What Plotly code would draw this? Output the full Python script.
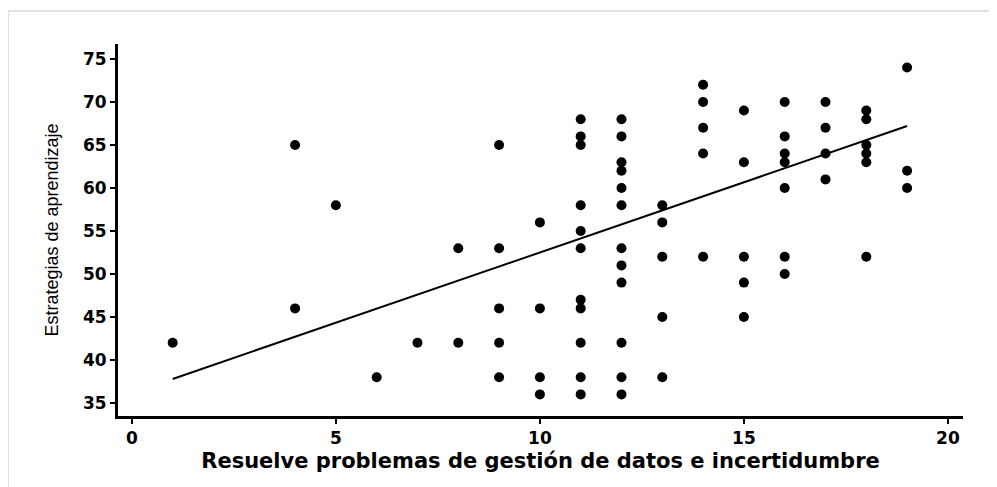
import plotly.graph_objects as go

# Scatter data (x: Resuelve problemas..., y: Estrategias de aprendizaje)
x_vals = [1,
          4, 4,
          5,
          6,
          7,
          8, 8,
          9, 9, 9, 9, 9,
          10, 10, 10, 10,
          11, 11, 11, 11, 11, 11, 11, 11, 11, 11, 11,
          12, 12, 12, 12, 12, 12, 12, 12, 12, 12, 12, 12,
          13, 13, 13, 13, 13,
          14, 14, 14, 14, 14,
          15, 15, 15, 15, 15,
          16, 16, 16, 16, 16, 16, 16,
          17, 17, 17, 17,
          18, 18, 18, 18, 18, 18,
          19, 19, 19]
y_vals = [42,
          65, 46,
          58,
          38,
          42,
          53, 42,
          65, 53, 46, 42, 38,
          56, 46, 38, 36,
          68, 66, 65, 58, 55, 53, 47, 46, 42, 38, 36,
          68, 66, 63, 62, 60, 58, 53, 51, 49, 42, 38, 36,
          58, 56, 52, 45, 38,
          72, 70, 67, 64, 52,
          69, 63, 52, 49, 45,
          70, 66, 64, 63, 60, 52, 50,
          70, 67, 64, 61,
          69, 68, 65, 64, 63, 52,
          74, 62, 60]

# Fit line end points
fit_x = [1, 19]
fit_y = [37.8, 67.2]

x_ticks = [0, 5, 10, 15, 20]
y_ticks = [35, 40, 45, 50, 55, 60, 65, 70, 75]

x_title = "Resuelve problemas de gestión de datos e incertidumbre"
y_title = "Estrategias de aprendizaje"

fig = go.Figure()
fig.add_trace(go.Scatter(x=fit_x, y=fit_y, mode="lines",
                         line=dict(color="black", width=2), showlegend=False,
                         hoverinfo="skip"))
fig.add_trace(go.Scatter(x=x_vals, y=y_vals, mode="markers",
                         marker=dict(color="black", size=10, line=dict(width=0)),
                         showlegend=False))

tick_font = dict(family="DejaVu Sans, Arial, sans-serif", size=17, color="black", weight=700)

# page body has an 8px offset; plot area target: x 118..963, y 44..416 in window
W, H = 989, 479
L, T = 110, 36
PW, PH = 845, 372
R = W - L - PW
B = H - T - PH

fig.update_layout(
    width=W, height=H,
    margin=dict(l=L, r=R, t=T, b=B),
    paper_bgcolor="white", plot_bgcolor="white",
    xaxis=dict(range=[-0.34, 20.37], tickvals=x_ticks, ticks="outside", ticklen=5,
               tickwidth=2, tickcolor="black", showline=True, linecolor="black",
               linewidth=3, showgrid=False, zeroline=False, tickfont=tick_font,
               title=dict(text=x_title, standoff=6,
                          font=dict(family="DejaVu Sans, Arial, sans-serif", size=21,
                                    color="black", weight=700))),
    yaxis=dict(range=[33.49, 76.74], tickvals=y_ticks, ticks="outside", ticklen=5,
               tickwidth=2, tickcolor="black", showline=True, linecolor="black",
               linewidth=3, showgrid=False, zeroline=False, tickfont=tick_font,
               title=dict(text=y_title, standoff=20,
                          font=dict(family="Liberation Sans Narrow, Arial Narrow, sans-serif",
                                    size=18, color="black"))),
    shapes=[
        dict(type="line", xref="paper", yref="paper",
             x0=(8 - 118) / PW, x1=(997 - 118) / PW,
             y0=(416 - 11) / PH, y1=(416 - 11) / PH,
             line=dict(color="#d9d9d9", width=1.5)),
        dict(type="line", xref="paper", yref="paper",
             x0=(8 - 118) / PW, x1=(8 - 118) / PW,
             y0=(416 - 11) / PH, y1=(416 - 487) / PH,
             line=dict(color="#d9d9d9", width=1.5)),
    ],
)

fig.write_html("out.html")
